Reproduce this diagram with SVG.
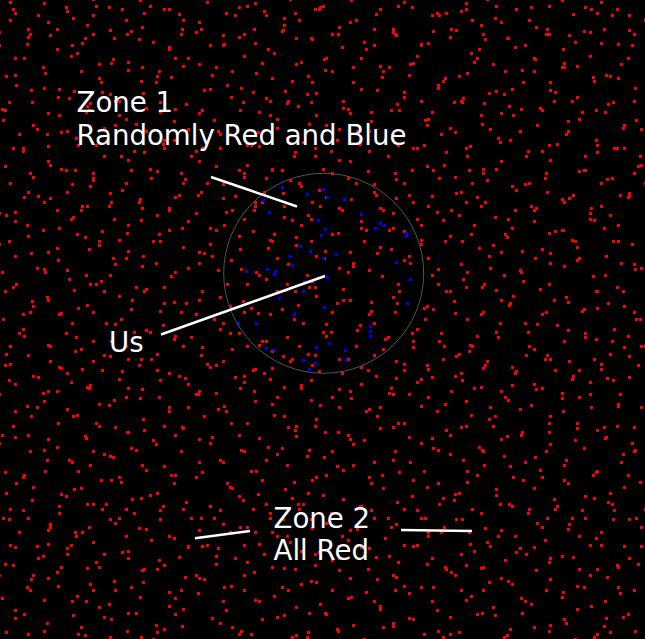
<svg xmlns="http://www.w3.org/2000/svg" width="645" height="639" viewBox="0 0 645 639">
<style>
.t{font-family:"DejaVu Sans",sans-serif;font-size:27.6px;fill:#fff}
.ptr{stroke:#fff;stroke-width:2.6;stroke-linecap:butt;fill:none}
.r{fill:#f00}
.b{fill:#00f}
</style>
<defs>
<pattern id="p1" width="151" height="139" patternUnits="userSpaceOnUse">
<path class="r" d="M12 8h3v3h-3zM47 21h3v3h-3zM95 5h3v3h-3zM130 30h3v3h-3zM71 44h3v3h-3zM23 57h3v3h-3zM110 62h3v3h-3zM140 80h3v3h-3zM58 88h3v3h-3zM8 101h3v3h-3zM88 109h3v3h-3zM125 118h3v3h-3zM36 128h3v3h-3zM66 130h3v3h-3zM101 91h3v3h-3zM143 12h3v3h-3zM29 33h3v3h-3zM80 70h3v3h-3zM118 100h3v3h-3zM47 112h3v3h-3zM5 75h3v3h-3zM92 33h3v3h-3z"/>
</pattern>
<pattern id="p2" x="37" y="51" width="173" height="163" patternUnits="userSpaceOnUse">
<path class="r" d="M5 15h3v3h-3zM33 4h3v3h-3zM61 26h3v3h-3zM90 10h3v3h-3zM121 19h3v3h-3zM150 6h3v3h-3zM166 38h3v3h-3zM20 45h3v3h-3zM48 60h3v3h-3zM77 49h3v3h-3zM105 41h3v3h-3zM137 57h3v3h-3zM9 82h3v3h-3zM40 93h3v3h-3zM66 76h3v3h-3zM98 72h3v3h-3zM126 88h3v3h-3zM158 99h3v3h-3zM28 118h3v3h-3zM55 126h3v3h-3zM83 104h3v3h-3zM112 117h3v3h-3zM145 131h3v3h-3zM12 146h3v3h-3zM44 154h3v3h-3zM72 141h3v3h-3zM101 150h3v3h-3zM131 158h3v3h-3zM163 140h3v3h-3zM88 131h3v3h-3z"/>
</pattern>
<pattern id="p3" x="83" y="19" width="197" height="181" patternUnits="userSpaceOnUse">
<path class="r" d="M3 5h3v3h-3zM30 18h3v3h-3zM58 7h3v3h-3zM85 29h3v3h-3zM112 12h3v3h-3zM140 24h3v3h-3zM170 9h3v3h-3zM190 33h3v3h-3zM15 44h3v3h-3zM44 50h3v3h-3zM72 62h3v3h-3zM99 46h3v3h-3zM128 55h3v3h-3zM157 68h3v3h-3zM182 78h3v3h-3zM6 83h3v3h-3zM35 95h3v3h-3zM62 88h3v3h-3zM90 101h3v3h-3zM118 90h3v3h-3zM146 105h3v3h-3zM174 112h3v3h-3zM22 122h3v3h-3zM50 131h3v3h-3zM79 124h3v3h-3zM107 136h3v3h-3zM136 128h3v3h-3zM163 145h3v3h-3zM188 150h3v3h-3zM9 160h3v3h-3zM38 170h3v3h-3zM67 158h3v3h-3zM95 175h3v3h-3zM123 163h3v3h-3zM151 176h3v3h-3zM180 172h3v3h-3zM26 74h3v3h-3z"/>
</pattern>
<pattern id="p4" x="121" y="97" width="211" height="199" patternUnits="userSpaceOnUse">
<path class="r" d="M10 3h3v3h-3zM38 14h3v3h-3zM64 6h3v3h-3zM92 22h3v3h-3zM121 4h3v3h-3zM148 17h3v3h-3zM176 8h3v3h-3zM204 27h3v3h-3zM24 33h3v3h-3zM52 42h3v3h-3zM80 50h3v3h-3zM108 36h3v3h-3zM137 48h3v3h-3zM165 40h3v3h-3zM193 58h3v3h-3zM6 62h3v3h-3zM35 73h3v3h-3zM63 81h3v3h-3zM94 68h3v3h-3zM122 79h3v3h-3zM150 71h3v3h-3zM179 88h3v3h-3zM18 101h3v3h-3zM47 110h3v3h-3zM76 97h3v3h-3zM104 114h3v3h-3zM133 104h3v3h-3zM162 119h3v3h-3zM198 108h3v3h-3zM5 135h3v3h-3zM31 143h3v3h-3zM60 130h3v3h-3zM88 146h3v3h-3zM117 138h3v3h-3zM146 150h3v3h-3zM174 139h3v3h-3zM202 160h3v3h-3zM20 168h3v3h-3zM49 178h3v3h-3zM77 165h3v3h-3zM105 186h3v3h-3zM134 174h3v3h-3zM163 192h3v3h-3zM190 183h3v3h-3z"/>
</pattern>
</defs>
<rect width="645" height="639" fill="#000"/>
<g id="field">
<rect width="645" height="639" fill="url(#p1)"/>
<rect width="645" height="639" fill="url(#p2)"/>
<rect width="645" height="639" fill="url(#p3)"/>
<rect width="645" height="639" fill="url(#p4)"/>
</g>
<g id="zone1-dots-blue" class="b">
<path d="M281 186h3v3h-3zM306 193h3v3h-3zM322 188h3v3h-3zM326 196h3v3h-3zM343 198h3v3h-3zM262 199h3v3h-3zM268 211h3v3h-3zM317 219h3v3h-3zM324 228h3v3h-3zM320 234h3v3h-3zM360 213h3v3h-3zM374 227h3v3h-3zM379 222h3v3h-3zM383 224h3v3h-3zM405 232h3v3h-3zM405 235h3v3h-3zM299 245h3v3h-3zM309 250h3v3h-3zM289 255h3v3h-3zM335 253h3v3h-3zM322 257h3v3h-3zM291 264h3v3h-3zM266 268h3v3h-3zM274 270h3v3h-3zM273 273h3v3h-3zM245 270h3v3h-3zM395 261h3v3h-3zM409 278h3v3h-3zM326 276h3v3h-3zM303 280h3v3h-3zM302 290h3v3h-3zM278 297h3v3h-3zM323 306h3v3h-3zM293 313h3v3h-3zM406 302h3v3h-3zM255 322h3v3h-3zM237 322h3v3h-3zM369 325h3v3h-3zM369 330h3v3h-3zM369 335h3v3h-3zM328 342h3v3h-3zM315 346h3v3h-3zM265 347h3v3h-3zM273 349h3v3h-3zM344 349h3v3h-3zM345 359h3v3h-3zM302 359h3v3h-3zM314 362h3v3h-3zM308 368h3v3h-3z"/>
</g>
<circle id="zone1-circle" cx="323.7" cy="273.3" r="100" fill="none" stroke="#555" stroke-width="1"/>
<g id="connectors">
<line class="ptr" x1="211" y1="177" x2="297" y2="206.5"/>
<line class="ptr" x1="161" y1="334.5" x2="325" y2="276"/>
<line class="ptr" x1="195" y1="538.3" x2="250" y2="531"/>
<line class="ptr" x1="401" y1="530" x2="472" y2="531"/>
</g>
<g id="label-zone1">
<text class="t" x="76.5" y="112">Zone 1</text>
<text class="t" x="76.5" y="145">Randomly Red and Blue</text>
</g>
<g id="label-us">
<text class="t" x="109" y="352">Us</text>
</g>
<g id="label-zone2">
<text class="t" x="273.5" y="528">Zone 2</text>
<text class="t" x="273.5" y="560">All Red</text>
</g>
</svg>
